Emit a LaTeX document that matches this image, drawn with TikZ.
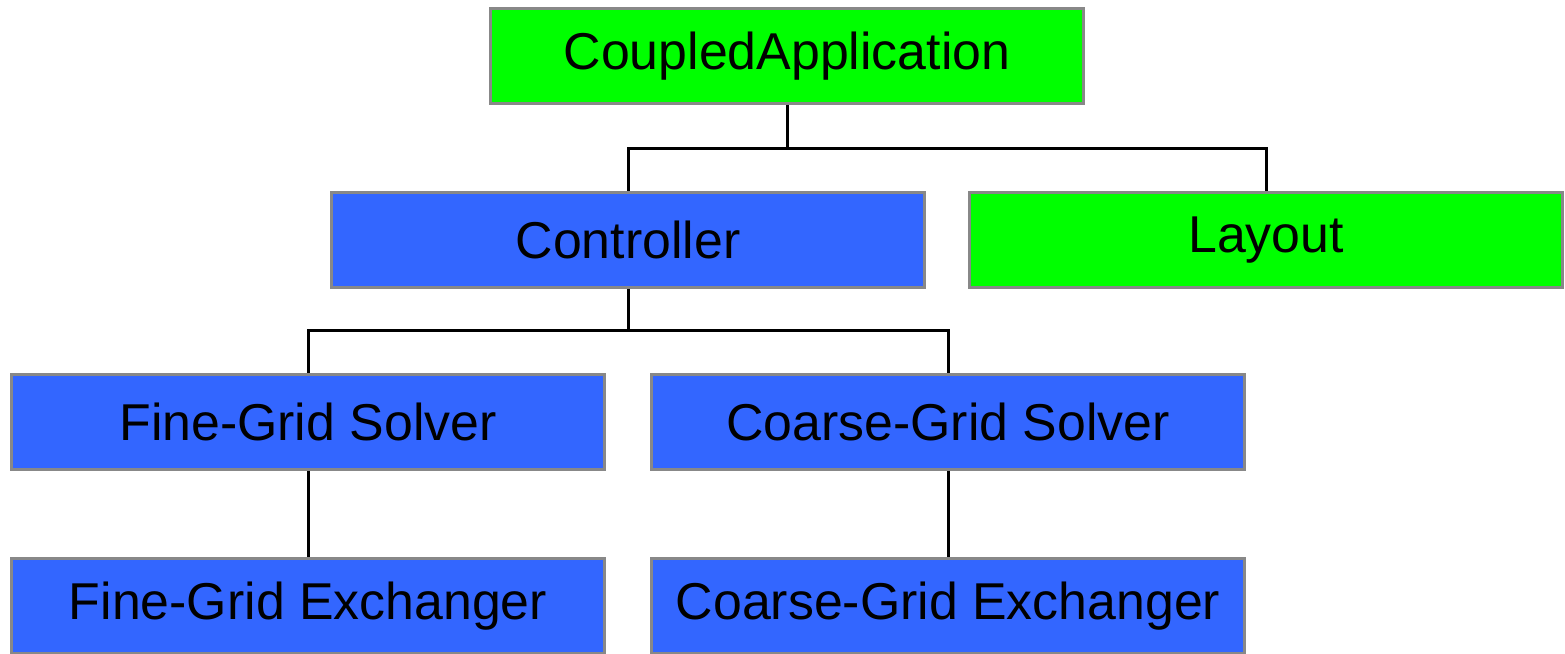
\documentclass[tikz,border=0pt]{standalone}
\usepackage{fontspec}
\setmainfont{Liberation Sans}
\usepackage{tikz}
\usetikzlibrary{calc}

\definecolor{appgreen}{RGB}{0,255,0}
\definecolor{modblue}{RGB}{51,102,255}
\definecolor{boxgray}{RGB}{136,136,136}

\begin{document}
\begin{tikzpicture}[
    x=0.02cm, y=-0.02cm,
    % Caja base de cada componente
    box/.style={
        draw=boxgray,
        line width=0.06cm,
        minimum width=11.86cm,
        minimum height=1.9cm,
        inner sep=0pt,
        font=\fontsize{29.5}{35}\selectfont
    },
    % Componentes de aplicacion (verde) y de modulo (azul)
    AppBox/.style={box, fill=appgreen},
    ModBox/.style={box, fill=modblue},
    % Lineas del arbol
    link/.style={draw=black, line width=0.06cm}
]

    \useasboundingbox (0,0) rectangle (1565,653);

    % --- 1. NIVEL SUPERIOR ---
    \node[AppBox] (app) at (787,56) {CoupledApplication};

    % --- 2. CONTROLADOR Y LAYOUT ---
    \node[ModBox] (ctrl) at (628,240) {Controller};
    \node[AppBox] (layout) at (1266,240) {Layout};

    % --- 3. SOLVERS ---
    \node[ModBox] (fsolver) at (308,422) {Fine-Grid Solver};
    \node[ModBox] (csolver) at (948,422) {Coarse-Grid Solver};

    % --- 4. EXCHANGERS ---
    \node[ModBox] (fexch) at (308,606) {Fine-Grid Exchanger};
    \node[ModBox] (cexch) at (948,606) {Coarse-Grid Exchanger};

    % Conexiones
    \draw[link] (app.south) -- ++(0,44) coordinate (j1) -| (ctrl.north);
    \draw[link] (j1) -| (layout.north);
    \draw[link] (ctrl.south) -- ++(0,42) coordinate (j2) -| (fsolver.north);
    \draw[link] (j2) -| (csolver.north);
    \draw[link] (fsolver.south) -- (fexch.north);
    \draw[link] (csolver.south) -- (cexch.north);

\end{tikzpicture}
\end{document}
